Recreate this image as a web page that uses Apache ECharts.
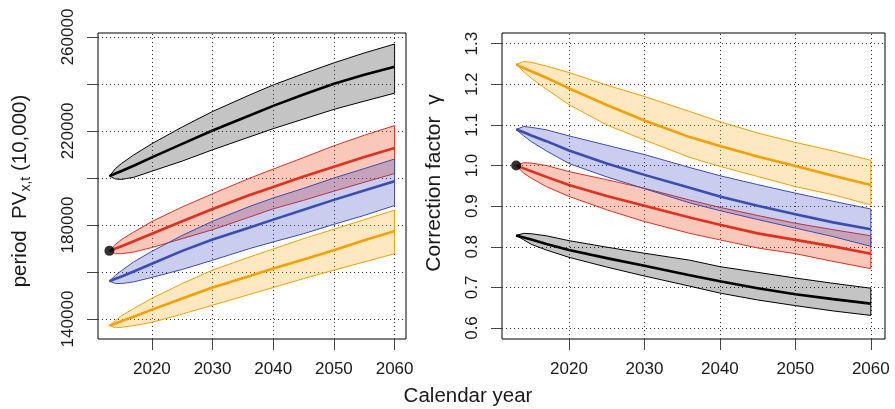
<!DOCTYPE html>
<html>
<head>
<meta charset="utf-8">
<script src="https://cdn.jsdelivr.net/npm/echarts@6/dist/echarts.min.js"></script>
<style>
html,body{margin:0;padding:0;background:#fff;}
#chart{width:895px;height:409px;}
</style>
</head>
<body>
<div id="chart"></div>
<script>
// ---------- data ----------
const years = [2013, 2014, 2015, 2017, 2020, 2025, 2030, 2036, 2040, 2045, 2050, 2055, 2060];
const xTicks = [2020, 2030, 2040, 2050, 2060];
const pvTicks = [140000, 160000, 180000, 200000, 220000, 240000, 260000];
const pvLabels = [140000, 180000, 220000, 260000];
const gammaTicks = [0.6, 0.7, 0.8, 0.9, 1.0, 1.1, 1.2, 1.3];

// Left panel: period PV (10,000)
const pvBlackUpper  = [200800,204000,206200,209800,214600,221700,228300,235200,239600,244400,249000,253200,257000];
const pvBlackCenter = [200800,201900,203000,205200,208800,214500,220200,226500,230700,235500,240100,243900,247300];
const pvBlackLower  = [200800,199600,199400,200300,202900,207200,212000,217400,221000,225100,229200,232700,236100];

const pvRedUpper  = [169000,171800,173800,177000,181500,187700,193300,199800,203800,208700,213700,218200,222300];
const pvRedCenter = [169000,170000,171000,173100,176300,181600,186800,192700,196200,200600,204800,208900,212800];
const pvRedLower  = [169000,167800,167800,168500,170400,174200,178000,183300,186900,190500,194400,198200,201900];

const pvBlueUpper  = [156100,158600,160600,164300,168800,175600,181600,187800,191500,195600,200000,204000,208100];
const pvBlueCenter = [156100,157100,158100,160200,163500,169000,173800,178800,182300,186500,190700,194700,198600];
const pvBlueLower  = [156100,155100,155100,155800,157700,161100,165000,169900,172800,176300,180300,184100,188300];

const pvOrangeUpper  = [137200,139300,141400,144500,148800,155100,160800,166300,169800,174200,178200,182300,186300];
const pvOrangeCenter = [137200,138100,139100,141000,144000,148700,153400,158200,161500,165300,169300,173500,177400];
const pvOrangeLower  = [137200,136300,136500,137200,138600,142100,145900,150400,153400,157200,160800,164300,167800];

const pvStart = [2013, 169000];

// Right panel: correction factor gamma
const gBlackUpper  = [0.828,0.833,0.832,0.827,0.815,0.799,0.784,0.767,0.751,0.737,0.723,0.710,0.698];
const gBlackCenter = [0.828,0.823,0.818,0.807,0.792,0.772,0.753,0.730,0.715,0.698,0.683,0.671,0.660];
const gBlackLower  = [0.828,0.817,0.806,0.792,0.774,0.750,0.728,0.703,0.686,0.669,0.655,0.642,0.631];

const gRedUpper  = [1.000,1.007,1.006,1.000,0.985,0.965,0.944,0.915,0.897,0.877,0.858,0.842,0.827];
const gRedCenter = [1.000,0.993,0.986,0.972,0.952,0.925,0.901,0.872,0.854,0.833,0.817,0.801,0.783];
const gRedLower  = [1.000,0.981,0.969,0.948,0.924,0.891,0.862,0.833,0.817,0.797,0.783,0.764,0.746];

const gBlueUpper  = [1.089,1.096,1.094,1.088,1.073,1.050,1.027,0.995,0.975,0.953,0.932,0.912,0.893];
const gBlueCenter = [1.089,1.082,1.074,1.060,1.037,1.005,0.977,0.945,0.924,0.901,0.880,0.860,0.843];
const gBlueLower  = [1.089,1.073,1.059,1.036,1.005,0.972,0.943,0.908,0.889,0.867,0.846,0.825,0.801];

const gOrangeUpper  = [1.249,1.256,1.254,1.245,1.229,1.198,1.170,1.133,1.108,1.080,1.057,1.036,1.013];
const gOrangeCenter = [1.249,1.240,1.232,1.216,1.190,1.149,1.111,1.070,1.048,1.022,0.999,0.975,0.952];
const gOrangeLower  = [1.249,1.231,1.215,1.188,1.150,1.100,1.063,1.020,0.998,0.973,0.948,0.928,0.903];

const gStart = [2013, 1.0];

// ---------- styling ----------
const FONT = 'Liberation Sans, Arial, Helvetica, sans-serif';
const TXT = '#1a1a1a';
const colors = {
  black:  {line:'#000000', fill:'rgba(0,0,0,0.23)'},
  red:    {line:'#E0301E', fill:'rgba(238,70,30,0.30)'},
  blue:   {line:'#3A4DB2', fill:'rgba(55,60,190,0.26)'},
  orange: {line:'#F5A000', fill:'rgba(252,168,20,0.26)'}
};

let zc = 3;
function band(gi, upper, lower, col) {
  return {
    type: 'custom', xAxisIndex: gi, yAxisIndex: gi, silent: true, z: zc++,
    data: [[years[0], upper[0]]],
    renderItem: function (params, api) {
      const pts = [];
      for (let i = 0; i < years.length; i++) pts.push(api.coord([years[i], upper[i]]));
      for (let i = years.length - 1; i >= 0; i--) pts.push(api.coord([years[i], lower[i]]));
      return {type: 'polygon', shape: {points: pts},
        style: {fill: col.fill, stroke: col.line, lineWidth: 1, lineJoin: 'round'}};
    }
  };
}
function center(gi, vals, col) {
  return {
    type: 'line', xAxisIndex: gi, yAxisIndex: gi, silent: true, z: zc++,
    data: years.map((y, i) => [y, vals[i]]),
    symbol: 'none', smooth: false,
    lineStyle: {color: col.line, width: 2.6, join: 'round'}
  };
}
function gridLines(gi, yTicks) {
  return {
    type: 'line', xAxisIndex: gi, yAxisIndex: gi, silent: true, z: 1,
    data: [[years[0], yTicks[0]]], symbol: 'none', lineStyle: {opacity: 0},
    markLine: {
      silent: true, symbol: ['none', 'none'], label: {show: false}, animation: false,
      lineStyle: {type: [1, 3], color: '#333', width: 1},
      data: xTicks.map(v => ({xAxis: v})).concat(yTicks.map(v => ({yAxis: v})))
    }
  };
}
function dot(gi, p) {
  return {type: 'scatter', xAxisIndex: gi, yAxisIndex: gi, silent: true, z: 40,
    data: [p], symbol: 'circle', symbolSize: 10, itemStyle: {color: '#000'}};
}

function xAxisCfg(gi) {
  return {
    gridIndex: gi, type: 'value', min: 2011.12, max: 2061.88,
    axisLine: {show: false}, splitLine: {show: false},
    axisTick: {show: true, length: 11, customValues: xTicks, lineStyle: {color: '#444'}},
    axisLabel: {customValues: xTicks, margin: 22, fontSize: 17, color: TXT, fontFamily: FONT,
      formatter: v => String(Math.round(v))}
  };
}

const series = [];
series.push(gridLines(0, pvTicks));
series.push(gridLines(1, gammaTicks));
const pvGroups = [
  [pvBlackUpper, pvBlackCenter, pvBlackLower, colors.black],
  [pvRedUpper, pvRedCenter, pvRedLower, colors.red],
  [pvBlueUpper, pvBlueCenter, pvBlueLower, colors.blue],
  [pvOrangeUpper, pvOrangeCenter, pvOrangeLower, colors.orange]
];
const gGroups = [
  [gBlackUpper, gBlackCenter, gBlackLower, colors.black],
  [gRedUpper, gRedCenter, gRedLower, colors.red],
  [gBlueUpper, gBlueCenter, gBlueLower, colors.blue],
  [gOrangeUpper, gOrangeCenter, gOrangeLower, colors.orange]
];
pvGroups.forEach(g => { series.push(band(0, g[0], g[2], g[3])); series.push(center(0, g[1], g[3])); });
gGroups.forEach(g => { series.push(band(1, g[0], g[2], g[3])); series.push(center(1, g[1], g[3])); });
series.push(dot(0, pvStart));
series.push(dot(1, gStart));

const chart = echarts.init(document.getElementById('chart'), null, {renderer: 'canvas'});
chart.setOption({
  animation: false,
  backgroundColor: '#fff',
  grid: [
    {left: 98, top: 33, width: 308, height: 306, show: true, borderColor: '#000', borderWidth: 1, backgroundColor: 'transparent', containLabel: false},
    {left: 502, top: 33, width: 383, height: 306, show: true, borderColor: '#000', borderWidth: 1, backgroundColor: 'transparent', containLabel: false}
  ],
  xAxis: [xAxisCfg(0), xAxisCfg(1)],
  yAxis: [
    {
      gridIndex: 0, type: 'value', min: 131500, max: 261700,
      axisLine: {show: false}, splitLine: {show: false},
      axisTick: {show: true, length: 11, customValues: pvTicks, lineStyle: {color: '#444'}},
      axisLabel: {customValues: pvLabels, rotate: 90, margin: 21, fontSize: 17, color: TXT, fontFamily: FONT,
        formatter: v => String(Math.round(v))}
    },
    {
      gridIndex: 1, type: 'value', min: 0.5729, max: 1.3263,
      axisLine: {show: false}, splitLine: {show: false},
      axisTick: {show: true, length: 11, customValues: gammaTicks, lineStyle: {color: '#444'}},
      axisLabel: {customValues: gammaTicks, rotate: 90, margin: 21, fontSize: 17, color: TXT, fontFamily: FONT,
        formatter: v => Number(v).toFixed(1)}
    }
  ],
  graphic: [
    {type: 'text', x: 20, y: 191, rotation: Math.PI / 2, silent: true,
      style: {text: '{a|period  PV}{s|x,t}{a| (10,000)}', align: 'center', verticalAlign: 'middle', fill: TXT,
        rich: {
          a: {fontSize: 20.5, fontFamily: FONT, fill: TXT, lineHeight: 26, verticalAlign: 'middle'},
          s: {fontSize: 14, fontFamily: FONT, fill: TXT, lineHeight: 14, verticalAlign: 'bottom'}
        }}},
    {type: 'text', x: 434, y: 183, rotation: Math.PI / 2, silent: true,
      style: {text: 'Correction factor  \u03B3', align: 'center', verticalAlign: 'middle', fill: TXT,
        font: '21px ' + FONT}},
    {type: 'text', x: 468, y: 396, silent: true,
      style: {text: 'Calendar year', align: 'center', verticalAlign: 'middle', fill: TXT,
        font: '20.5px ' + FONT}}
  ],
  series: series
});
</script>
</body>
</html>
